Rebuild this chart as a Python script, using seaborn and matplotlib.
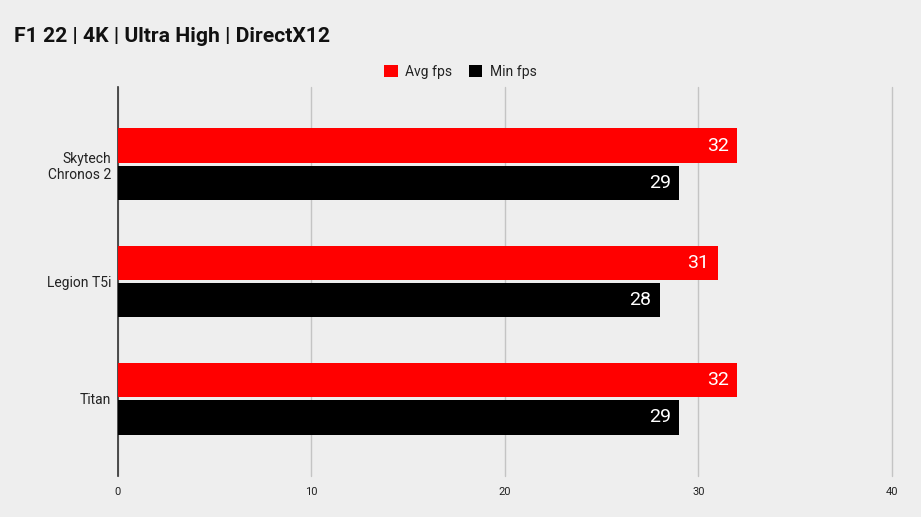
import pandas as pd
import matplotlib.pyplot as plt
import seaborn as sns

# Chart data
systems = ['Skytech\nChronos 2', 'Legion T5i', 'Titan']
avg_fps = [32, 31, 32]
min_fps = [29, 28, 29]
x_ticks = [0, 10, 20, 30, 40]

df = pd.DataFrame({
    'system': systems * 2,
    'fps': avg_fps + min_fps,
    'metric': ['Avg fps'] * len(systems) + ['Min fps'] * len(systems),
})

sns.set_style('white')
plt.rcParams['font.family'] = ['Roboto', 'DejaVu Sans']
bg = '#eeeeee'

fig = plt.figure(figsize=(9.21, 5.17), dpi=100, facecolor=bg)
ax = fig.add_axes([0.128, 0.0793, 0.8405, 0.7524])
ax.set_facecolor(bg)

sns.barplot(data=df, y='system', x='fps', hue='metric', orient='h',
            palette=['#ff0000', '#000000'], width=0.64, gap=0.08,
            saturation=1, linewidth=0, ax=ax, legend=True, zorder=3)

# value labels inside the bars
for cont in ax.containers:
    labels = ax.bar_label(cont, padding=-6, color='white', fontsize=14)
    for t in labels:
        t.set_ha('right')

ax.set_xlim(0, 40)
ax.set_ylim(2.66, -0.66)
ax.set_xticks(x_ticks)
ax.set_xticklabels([str(v) for v in x_ticks])
ax.grid(axis='x', color='#c4c4c4', linewidth=1, zorder=0)
ax.grid(axis='y', visible=False)
for gl in ax.get_xgridlines():
    gl.set_clip_on(False)
ax.set_axisbelow(True)
ax.set_xlabel('')
ax.set_ylabel('')
for s in ['top', 'right', 'bottom']:
    ax.spines[s].set_visible(False)
ax.spines['left'].set_color('#333333')
ax.spines['left'].set_linewidth(1.2)
ax.tick_params(axis='x', length=0, pad=8, labelsize=8, labelcolor='#222222')
ax.tick_params(axis='y', length=0, pad=5, labelsize=10, labelcolor='#222222')
for t in ax.get_yticklabels():
    t.set_ha('right')

leg = ax.legend(loc='center', ncol=2, frameon=False,
                fontsize=10, handlelength=0.95, handleheight=0.95, columnspacing=1.2,
                handletextpad=0.55, labelcolor='#222222')
leg.set_bbox_to_anchor((0.5, 1 - 72 / 517), transform=fig.transFigure)

fig.text(14 / 921, 1 - 37 / 517, 'F1 22 | 4K | Ultra High | DirectX12',
         fontsize=15.2, fontweight='bold', va='center', ha='left', color='#111111')

fig.savefig('out.png', dpi=100, facecolor=bg)
